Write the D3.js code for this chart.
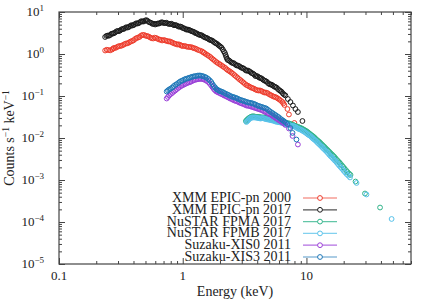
<!DOCTYPE html>
<html>
<head>
<meta charset="utf-8">
<script src="https://cdn.jsdelivr.net/npm/d3@7"></script>
<style>
  body { margin: 0; background: #fff; }
  svg text { font-family: "Liberation Serif", "DejaVu Serif", serif; fill: #222; }
</style>
</head>
<body>
<div id="chart"></div>
<script>
// spectra: [energy keV, counts s^-1 keV^-1]
const xmm2000 = [
  [0.236,1.21],[0.243,1.26],[0.250,1.245],[0.259,1.22],[0.269,1.28],[0.274,1.36],[0.279,1.39],[0.287,1.40],
  [0.295,1.47],[0.303,1.53],[0.312,1.55],[0.321,1.58],[0.330,1.64],[0.339,1.72],[0.348,1.78],[0.358,1.80],
  [0.369,1.88],[0.379,1.98],[0.390,2.04],[0.401,2.12],[0.412,2.28],[0.424,2.40],[0.436,2.47],[0.448,2.55],
  [0.461,2.75],[0.474,2.85],[0.488,2.83],[0.502,2.72],[0.516,2.68],[0.531,2.60],[0.546,2.47],[0.561,2.38],
  [0.577,2.34],[0.593,2.45],[0.610,2.40],[0.627,2.30],[0.645,2.21],[0.663,2.18],[0.682,2.10],[0.702,2.16],
  [0.722,2.10],[0.743,2.05],[0.764,1.99],[0.785,2.00],[0.807,1.93],[0.830,1.85],[0.854,1.78],[0.878,1.74],
  [0.903,1.68],[0.929,1.70],[0.955,1.64],[0.977,1.58],[1.00,1.55],[1.034,1.56],[1.068,1.51],[1.098,1.48],
  [1.129,1.47],[1.161,1.46],[1.194,1.43],[1.227,1.38],[1.262,1.35],[1.298,1.30],[1.335,1.245],[1.386,1.20],
  [1.439,1.15],[1.466,1.09],[1.493,1.06],[1.535,1.00],[1.579,0.947],[1.624,0.90],[1.670,0.849],[1.717,0.790],
  [1.766,0.740],[1.816,0.690],[1.867,0.645],[1.920,0.610],[1.975,0.578],[2.031,0.550],[2.088,0.518],[2.148,0.490],
  [2.209,0.464],[2.272,0.430],[2.336,0.405],[2.403,0.385],[2.471,0.363],[2.541,0.340],[2.613,0.316],[2.687,0.296],
  [2.763,0.276],[2.841,0.256],[2.922,0.240],[3.005,0.225],[3.090,0.210],[3.178,0.195],[3.268,0.183],[3.361,0.176],
  [3.456,0.168],[3.554,0.160],[3.655,0.155],[3.759,0.150],[3.865,0.143],[3.975,0.138],[4.087,0.135],[4.203,0.136],
  [4.322,0.132],[4.444,0.126],[4.570,0.121],[4.700,0.121],[4.833,0.118],[4.970,0.111],[5.111,0.106],[5.256,0.102],
  [5.405,0.0973],[5.558,0.0950],[5.715,0.0921],[5.877,0.0870],[6.045,0.0826],[6.217,0.0770],[6.393,0.0720],[6.51,0.0670],
  [6.636,0.0611],[7.02,0.049],[7.22,0.0363],[7.99,0.0228]
];
const xmm2017 = [
  [0.236,2.54],[0.242,2.70],[0.248,2.75],[0.253,2.72],[0.259,2.83],[0.265,3.02],[0.271,3.07],[0.277,3.10],
  [0.284,3.25],[0.291,3.45],[0.298,3.53],[0.305,3.50],[0.312,3.63],[0.319,3.85],[0.327,3.94],[0.334,3.95],
  [0.342,4.16],[0.350,4.35],[0.359,4.27],[0.367,4.40],[0.376,4.64],[0.384,4.85],[0.393,4.77],[0.402,4.90],
  [0.412,5.18],[0.422,5.40],[0.432,5.32],[0.442,5.45],[0.453,5.78],[0.463,6.05],[0.474,5.94],[0.485,5.95],
  [0.497,6.28],[0.509,6.40],[0.521,6.10],[0.533,5.75],[0.546,5.62],[0.559,5.45],[0.572,5.18],[0.585,5.25],
  [0.599,5.04],[0.613,5.20],[0.628,5.32],[0.642,5.30],[0.657,5.47],[0.673,5.70],[0.689,5.62],[0.705,5.45],
  [0.722,5.47],[0.739,5.55],[0.756,5.32],[0.774,5.20],[0.792,5.18],[0.811,5.25],[0.830,5.04],[0.850,4.85],
  [0.870,4.90],[0.890,4.80],[0.911,4.64],[0.933,4.45],[0.955,4.52],[0.977,4.40],[1.00,4.16],[1.024,4.10],
  [1.048,3.94],[1.073,3.80],[1.098,3.83],[1.124,3.75],[1.150,3.63],[1.177,3.50],[1.205,3.43],[1.233,3.35],
  [1.262,3.16],[1.292,3.12],[1.323,2.99],[1.354,2.88],[1.386,2.83],[1.419,2.80],[1.452,2.68],[1.486,2.55],
  [1.521,2.47],[1.557,2.42],[1.594,2.34],[1.632,2.22],[1.670,2.15],[1.710,2.12],[1.750,2.04],[1.791,1.92],
  [1.833,1.83],[1.876,1.78],[1.921,1.68],[1.966,1.58],[2.012,1.51],[2.06,1.42],[2.108,1.28],[2.15,1.15],
  [2.19,1.06],[2.22,0.95],[2.25,0.849],[2.28,0.77],[2.31,0.720],[2.37,0.70],[2.425,0.663],[2.48,0.625],
  [2.54,0.611],[2.60,0.600],[2.662,0.562],[2.725,0.535],[2.79,0.532],[2.855,0.515],[2.922,0.490],[2.99,0.470],
  [3.06,0.464],[3.13,0.445],[3.208,0.416],[3.28,0.400],[3.36,0.405],[3.44,0.390],[3.521,0.373],[3.60,0.352],
  [3.69,0.343],[3.78,0.325],[3.865,0.299],[3.96,0.300],[4.05,0.291],[4.14,0.275],[4.242,0.268],[4.34,0.262],
  [4.44,0.247],[4.55,0.235],[4.656,0.228],[4.77,0.220],[4.88,0.204],[5.00,0.193],[5.111,0.188],[5.23,0.186],
  [5.35,0.178],[5.48,0.168],[5.61,0.164],[5.74,0.158],[5.88,0.147],[6.02,0.138],[6.159,0.132],[6.30,0.126],
  [6.45,0.115],[6.60,0.108],[6.761,0.103],[7.08,0.0849],[7.421,0.0720],[7.78,0.0594],[8.146,0.0490],[8.53,0.0416],
  [9.28,0.0254]
];
const nustarA = [
  [3.24,0.0254],[3.36,0.0283],[3.488,0.0308],[3.62,0.0325],[3.794,0.0325],[3.97,0.0316],[4.164,0.0316],[4.36,0.0308],
  [4.570,0.0308],[4.787,0.0299],[5.017,0.0291],[5.254,0.0283],[5.507,0.0268],[5.767,0.0261],[6.045,0.0254],[6.33,0.0247],
  [6.636,0.0234],[6.95,0.0228],[7.29,0.0221],[7.63,0.0210],[8.00,0.0198],[8.37,0.0188],[8.78,0.0178],[9.19,0.0168],
  [9.63,0.0155],[10.09,0.0143],[10.57,0.0128],[11.07,0.0115],[11.61,0.0103],[12.16,0.00896],[12.74,0.00803],[13.34,0.0070],
  [13.99,0.00611],[14.65,0.00532],[15.35,0.00464],[16.08,0.00405],[16.85,0.00353],[17.65,0.00299],[18.50,0.00261],[19.38,0.00221],
  [20.31,0.00188],[21.47,0.00155],[22.71,0.00132],[24.93,0.00092],[29.73,0.000477],[39.35,0.000221],
  [3.30,0.0268],[3.424,0.0296],[3.553,0.0316],[3.706,0.0330],[3.881,0.0320],[4.066,0.0318],[4.261,0.0312],[4.464,0.0310],
  [4.677,0.0302],[4.901,0.0295],[5.134,0.0287],[5.379,0.0275],[5.636,0.0264],[5.905,0.0258],[6.186,0.0250],[6.481,0.0240],
  [6.792,0.0231],[7.118,0.0224],[7.458,0.0215],[7.813,0.0204],[8.183,0.0193],[8.573,0.0183],[8.983,0.0173],[9.408,0.0161],
  [9.858,0.0149],[10.33,0.0135],[10.82,0.0121],[11.34,0.0109],[11.88,0.00960],[12.45,0.00848],[13.04,0.00750],[13.66,0.00654],
  [14.32,0.00570],[15.00,0.00497],[15.71,0.00433],[16.46,0.00378],[17.25,0.00325],[18.07,0.00280],[18.94,0.00240],[19.84,0.00204],
  [20.88,0.00171],[22.08,0.00143]
];
const nustarB = [
  [3.27,0.0240],[3.393,0.0268],[3.521,0.0299],[3.69,0.0308],[3.865,0.0308],[4.05,0.0299],[4.242,0.0291],[4.44,0.0299],
  [4.656,0.0283],[4.88,0.0276],[5.111,0.0268],[5.35,0.0261],[5.61,0.0247],[5.88,0.0240],[6.159,0.0234],[6.45,0.0228],
  [6.761,0.0215],[7.08,0.0210],[7.421,0.0198],[7.78,0.0193],[8.146,0.0183],[8.53,0.0168],[8.942,0.0159],[9.37,0.0147],
  [9.815,0.0135],[10.28,0.0121],[10.77,0.01116],[11.28,0.00973],[11.83,0.0087],[12.39,0.0076],[12.98,0.00663],[13.60,0.00578],
  [14.25,0.00504],[14.93,0.00439],[15.64,0.00373],[16.39,0.00325],[17.17,0.00283],[17.99,0.00240],[18.85,0.00204],[19.93,0.00168],
  [21.08,0.00139],[22.5,0.00115],[25.4,0.00085],[30.56,0.000452],[48.8,0.000118],
  [3.33,0.0254],[3.457,0.0284],[3.605,0.0304],[3.777,0.0308],[3.957,0.0304],[4.145,0.0295],[4.340,0.0295],[4.547,0.0291],
  [4.767,0.0280],[4.994,0.0272],[5.229,0.0264],[5.479,0.0254],[5.743,0.0244],[6.018,0.0237],[6.303,0.0231],[6.602,0.0221],
  [6.918,0.0212],[7.249,0.0204],[7.598,0.0195],[7.961,0.0188],[8.336,0.0175],[8.733,0.0163],[9.153,0.0153],[9.590,0.0141],
  [10.04,0.0128],[10.52,0.0116],[11.02,0.0104],[11.55,0.0092],[12.11,0.0081],[12.68,0.0071],[13.29,0.0062],[13.92,0.0054],
  [14.59,0.0047],[15.28,0.0040],[16.01,0.0035],[16.78,0.0030],[17.57,0.0026],[18.41,0.0022],[19.38,0.00186],[20.50,0.00153],
  [21.78,0.00127]
];
const suzakuXis0 = [
  [0.742,0.0871],[0.777,0.103],[0.822,0.118],[0.870,0.135],[0.920,0.155],[0.973,0.173],[1.029,0.188],[1.088,0.204],
  [1.150,0.215],[1.216,0.234],[1.286,0.247],[1.360,0.254],[1.439,0.254],[1.521,0.240],[1.609,0.215],[1.701,0.178],
  [1.783,0.147],[1.867,0.128],[1.975,0.118],[2.088,0.109],[2.209,0.100],[2.336,0.0921],[2.471,0.0849],[2.613,0.0782],
  [2.763,0.0740],[2.922,0.0681],[3.090,0.0645],[3.268,0.0594],[3.456,0.0578],[3.655,0.0547],[3.865,0.0518],[4.087,0.0490],
  [4.322,0.0464],[4.570,0.0428],[4.833,0.0394],[5.111,0.0363],[5.405,0.0325],[5.715,0.0291],[6.045,0.0261],[6.393,0.0234],
  [6.761,0.0204],[7.22,0.0168],[7.72,0.0112],[8.53,0.0070],
  [0.759,0.095],[0.799,0.111],[0.846,0.127],[0.895,0.145],[0.946,0.164],[1.001,0.181],[1.058,0.196],[1.119,0.210],
  [1.183,0.225],[1.250,0.241],[1.323,0.251],[1.399,0.256],[1.479,0.248],[1.564,0.228],[1.655,0.196],[1.742,0.162],
  [1.825,0.137],[1.920,0.123],[2.031,0.113],[2.148,0.104],[2.272,0.096],[2.403,0.088],[2.541,0.0815],[2.687,0.0760],
  [2.841,0.0710],[3.005,0.0662],[3.178,0.0620],[3.361,0.0586],[3.554,0.0562],[3.759,0.0532],[3.975,0.0504],[4.203,0.0477],
  [4.444,0.0446],[4.700,0.0411],[4.970,0.0378],[5.256,0.0344],[5.558,0.0308],[5.877,0.0276],[6.217,0.0247],[6.575,0.0219]
];
const suzakuXis3 = [
  [0.742,0.128],[0.777,0.143],[0.822,0.159],[0.870,0.183],[0.920,0.204],[0.973,0.228],[1.029,0.247],[1.088,0.261],
  [1.150,0.276],[1.216,0.291],[1.286,0.299],[1.360,0.308],[1.439,0.299],[1.521,0.283],[1.609,0.254],[1.701,0.215],
  [1.783,0.173],[1.867,0.147],[1.957,0.135],[2.050,0.128],[2.168,0.118],[2.293,0.109],[2.425,0.100],[2.564,0.0946],
  [2.712,0.0896],[2.868,0.0826],[3.033,0.0782],[3.208,0.0740],[3.393,0.0700],[3.587,0.0681],[3.794,0.0645],[4.012,0.0594],
  [4.242,0.0562],[4.486,0.0532],[4.743,0.0503],[5.017,0.0440],[5.305,0.0394],[5.610,0.0353],[5.933,0.0316],[6.275,0.0276],
  [6.636,0.0247],[7.02,0.0215],[7.421,0.0173],[7.72,0.0132],[8.30,0.0092],
  [0.759,0.136],[0.799,0.150],[0.846,0.172],[0.895,0.192],[0.946,0.218],[1.001,0.236],[1.058,0.256],[1.119,0.270],
  [1.183,0.286],[1.250,0.297],[1.323,0.306],[1.399,0.306],[1.479,0.292],[1.564,0.270],[1.655,0.236],[1.742,0.192],
  [1.825,0.160],[1.912,0.141],[2.003,0.130],[2.108,0.124],[2.230,0.113],[2.358,0.105],[2.494,0.097],[2.637,0.092],
  [2.789,0.086],[2.949,0.080],[3.119,0.0760],[3.299,0.0718],[3.489,0.0690],[3.689,0.0662],[3.901,0.0620],[4.125,0.0578],
  [4.362,0.0548],[4.613,0.0518],[4.878,0.0472],[5.159,0.0416],[5.456,0.0373],[5.769,0.0334],[6.102,0.0296],[6.453,0.0262],
  [6.825,0.0231]
];

const seriesNames = ["XMM EPIC-pn 2000", "XMM EPIC-pn 2017", "NuSTAR FPMA 2017", "NuSTAR FPMB 2017", "Suzaku-XIS0 2011", "Suzaku-XIS3 2011"];
const seriesData = [xmm2000, xmm2017, nustarA, nustarB, suzakuXis0, suzakuXis3];
const seriesColors = ["#ee3b2b", "#1a1a1a", "#2fb389", "#58c2ea", "#9a3fd8", "#1f78b8"];

const xMajor = [0.1, 1, 10];
const xTickLabels = ["0.1", "1", "10"];
const yMajorExp = [1, 0, -1, -2, -3, -4, -5];

const width = 432, height = 304;
const margin = { left: 59, right: 21, top: 12, bottom: 40 };
const serif = "'Liberation Serif', 'DejaVu Serif', serif";

const svg = d3.select("#chart").append("svg")
  .attr("width", width)
  .attr("height", height)
  .attr("font-family", serif);

const x = d3.scaleLog().domain([0.1, 70]).range([margin.left, width - margin.right]);
const y = d3.scaleLog().domain([1e-5, 10]).range([height - margin.bottom, margin.top]);

// minor ticks per decade
const minorX = [];
[0.1, 1, 10].forEach(d => { for (let k = 2; k <= 9; k++) if (d * k <= 70) minorX.push(d * k); });
const minorY = [];
yMajorExp.slice(1).forEach(e => { for (let k = 2; k <= 9; k++) minorY.push(k * Math.pow(10, e)); });
const yMajor = yMajorExp.map(e => Math.pow(10, e));

const axisColor = "#444";
const x0 = margin.left, x1 = width - margin.right, y0 = height - margin.bottom, y1 = margin.top;

function styleAxis(g) {
  g.select(".domain").remove();
  g.selectAll("line").attr("stroke", axisColor).attr("stroke-width", 1);
  g.selectAll("text").remove();
}

svg.append("g").attr("transform", `translate(0,${y0})`)
  .call(d3.axisBottom(x).tickValues(minorX).tickSize(-3)).call(styleAxis);
svg.append("g").attr("transform", `translate(0,${y0})`)
  .call(d3.axisBottom(x).tickValues(xMajor).tickSize(-6)).call(styleAxis);
svg.append("g").attr("transform", `translate(0,${y1})`)
  .call(d3.axisTop(x).tickValues(minorX).tickSize(-3)).call(styleAxis);
svg.append("g").attr("transform", `translate(0,${y1})`)
  .call(d3.axisTop(x).tickValues(xMajor).tickSize(-6)).call(styleAxis);
svg.append("g").attr("transform", `translate(${x0},0)`)
  .call(d3.axisLeft(y).tickValues(minorY).tickSize(-3)).call(styleAxis);
svg.append("g").attr("transform", `translate(${x0},0)`)
  .call(d3.axisLeft(y).tickValues(yMajor).tickSize(-6)).call(styleAxis);
svg.append("g").attr("transform", `translate(${x1},0)`)
  .call(d3.axisRight(y).tickValues(minorY).tickSize(-3)).call(styleAxis);
svg.append("g").attr("transform", `translate(${x1},0)`)
  .call(d3.axisRight(y).tickValues(yMajor).tickSize(-6)).call(styleAxis);

svg.append("rect")
  .attr("x", x0).attr("y", y1)
  .attr("width", x1 - x0).attr("height", y0 - y1)
  .attr("fill", "none").attr("stroke", axisColor).attr("stroke-width", 1.2);

// x tick labels
svg.append("g").selectAll("text").data(xMajor).join("text")
  .attr("x", d => x(d)).attr("y", y0 + 16)
  .attr("text-anchor", "middle").attr("font-family", serif).style("font-size", "13px")
  .text((d, i) => xTickLabels[i]);

// y tick labels 10^n
const yLab = svg.append("g").selectAll("text").data(yMajorExp).join("text")
  .attr("x", x0 - 15).attr("y", d => y(Math.pow(10, d)) + 4)
  .attr("text-anchor", "end").attr("font-family", serif).style("font-size", "13px");
yLab.append("tspan").text("10");
yLab.append("tspan").attr("dy", -5).style("font-size", "9px")
  .text(d => d < 0 ? "\u2212" + (-d) : String(d));

// axis titles
svg.append("text")
  .attr("x", (x0 + x1) / 2).attr("y", 296)
  .attr("text-anchor", "middle").attr("font-family", serif).style("font-size", "14px")
  .text("Energy (keV)");

const yTitle = svg.append("text")
  .attr("transform", `translate(14,${(y0 + y1) / 2}) rotate(-90)`)
  .attr("text-anchor", "middle").attr("font-family", serif).style("font-size", "14px");
yTitle.append("tspan").text("Counts s");
yTitle.append("tspan").attr("dy", -5).style("font-size", "9.5px").text("\u22121");
yTitle.append("tspan").attr("dy", 5).text(" keV");
yTitle.append("tspan").attr("dy", -5).style("font-size", "9.5px").text("\u22121");

// data
const plot = svg.append("g");
seriesData.forEach((data, i) => {
  plot.append("g").selectAll("circle").data(data).join("circle")
    .attr("cx", d => x(d[0])).attr("cy", d => y(d[1])).attr("r", 2.4)
    .attr("fill", "none").attr("stroke", seriesColors[i]).attr("stroke-width", 1);
});

// legend
const legend = svg.append("g");
const legRows = legend.selectAll("g").data(seriesNames).join("g")
  .attr("transform", (d, i) => `translate(0,${198 + i * 11.8})`);
legRows.append("text")
  .attr("x", 291).attr("y", 4).attr("text-anchor", "end")
  .attr("font-family", serif).style("font-size", "14px")
  .text(d => d);
legRows.append("line")
  .attr("x1", 303).attr("x2", 337)
  .attr("stroke", (d, i) => seriesColors[i]).attr("stroke-opacity", 0.75).attr("stroke-width", 1.2);
legRows.append("circle")
  .attr("cx", 320).attr("r", 2.4)
  .attr("fill", "#fff").attr("stroke", (d, i) => seriesColors[i]).attr("stroke-width", 1);
</script>
</body>
</html>
